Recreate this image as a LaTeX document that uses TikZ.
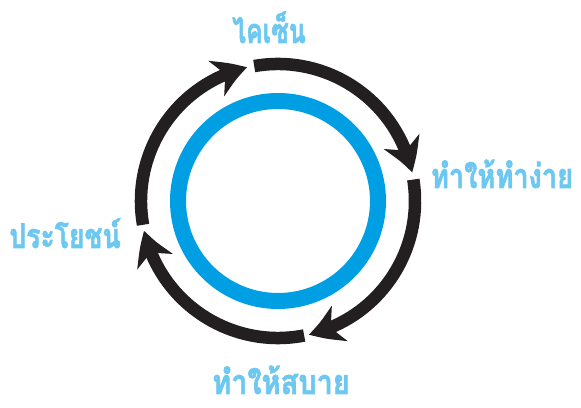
\documentclass[tikz,border=0pt]{standalone}
\usepackage{fontspec}
\newfontfamily\thaifont[Script=Thai, BoldFeatures={FakeBold=2}]{Loma}
\usepackage{xcolor}
\definecolor{ringblue}{HTML}{009FE3}
\definecolor{labelblue}{HTML}{6DC8F1}
\definecolor{arcblack}{HTML}{231F20}
\usepackage{tikz}
\usetikzlibrary{arrows.meta, bending, calc}
\newcommand{\squeeze}[2][0.8]{\scalebox{#1}[1]{#2}}

\begin{document}
\begin{tikzpicture}[x=1pt, y=1pt,
  cyclearc/.style={arcblack, line width=12.5pt, -{Stealth[length=33pt, width=38pt, inset=10pt, bend]}},
  steplabel/.style={labelblue, anchor=base, inner sep=0pt, text depth=0pt,
    font=\thaifont\bfseries\fontsize{34}{34}\selectfont}]
  \useasboundingbox (0,0) rectangle (581,407);
  \coordinate (c) at (278,206);
  % blue ring in the middle
  \draw[ringblue, line width=16pt] (c) circle[radius=100];
  % the four arrows, clockwise
  \draw[cyclearc] ($(c)+(100:137)$) arc[start angle=100, end angle=12, radius=137];
  \draw[cyclearc] ($(c)+(9:137)$) arc[start angle=9, end angle=-77, radius=137];
  \draw[cyclearc] ($(c)+(-79:137)$) arc[start angle=-79, end angle=-167.5, radius=137];
  \draw[cyclearc] ($(c)+(-170:137)$) arc[start angle=-170, end angle=-257, radius=137];
  % labels
  \node[steplabel] (kaizen)  at (269,364) {\squeeze[0.73]{ไคเซ็น}};
  \node[steplabel] (easy)    at (502,219) {\squeeze{ทำให้ทำง่าย}};
  \node[steplabel] (comfort) at (281,13)  {\squeeze[0.85]{ทำให้สบาย}};
  \node[steplabel] (benefit) at (65,159)  {\squeeze[0.78]{ประโยชน์}};
\end{tikzpicture}
\end{document}
